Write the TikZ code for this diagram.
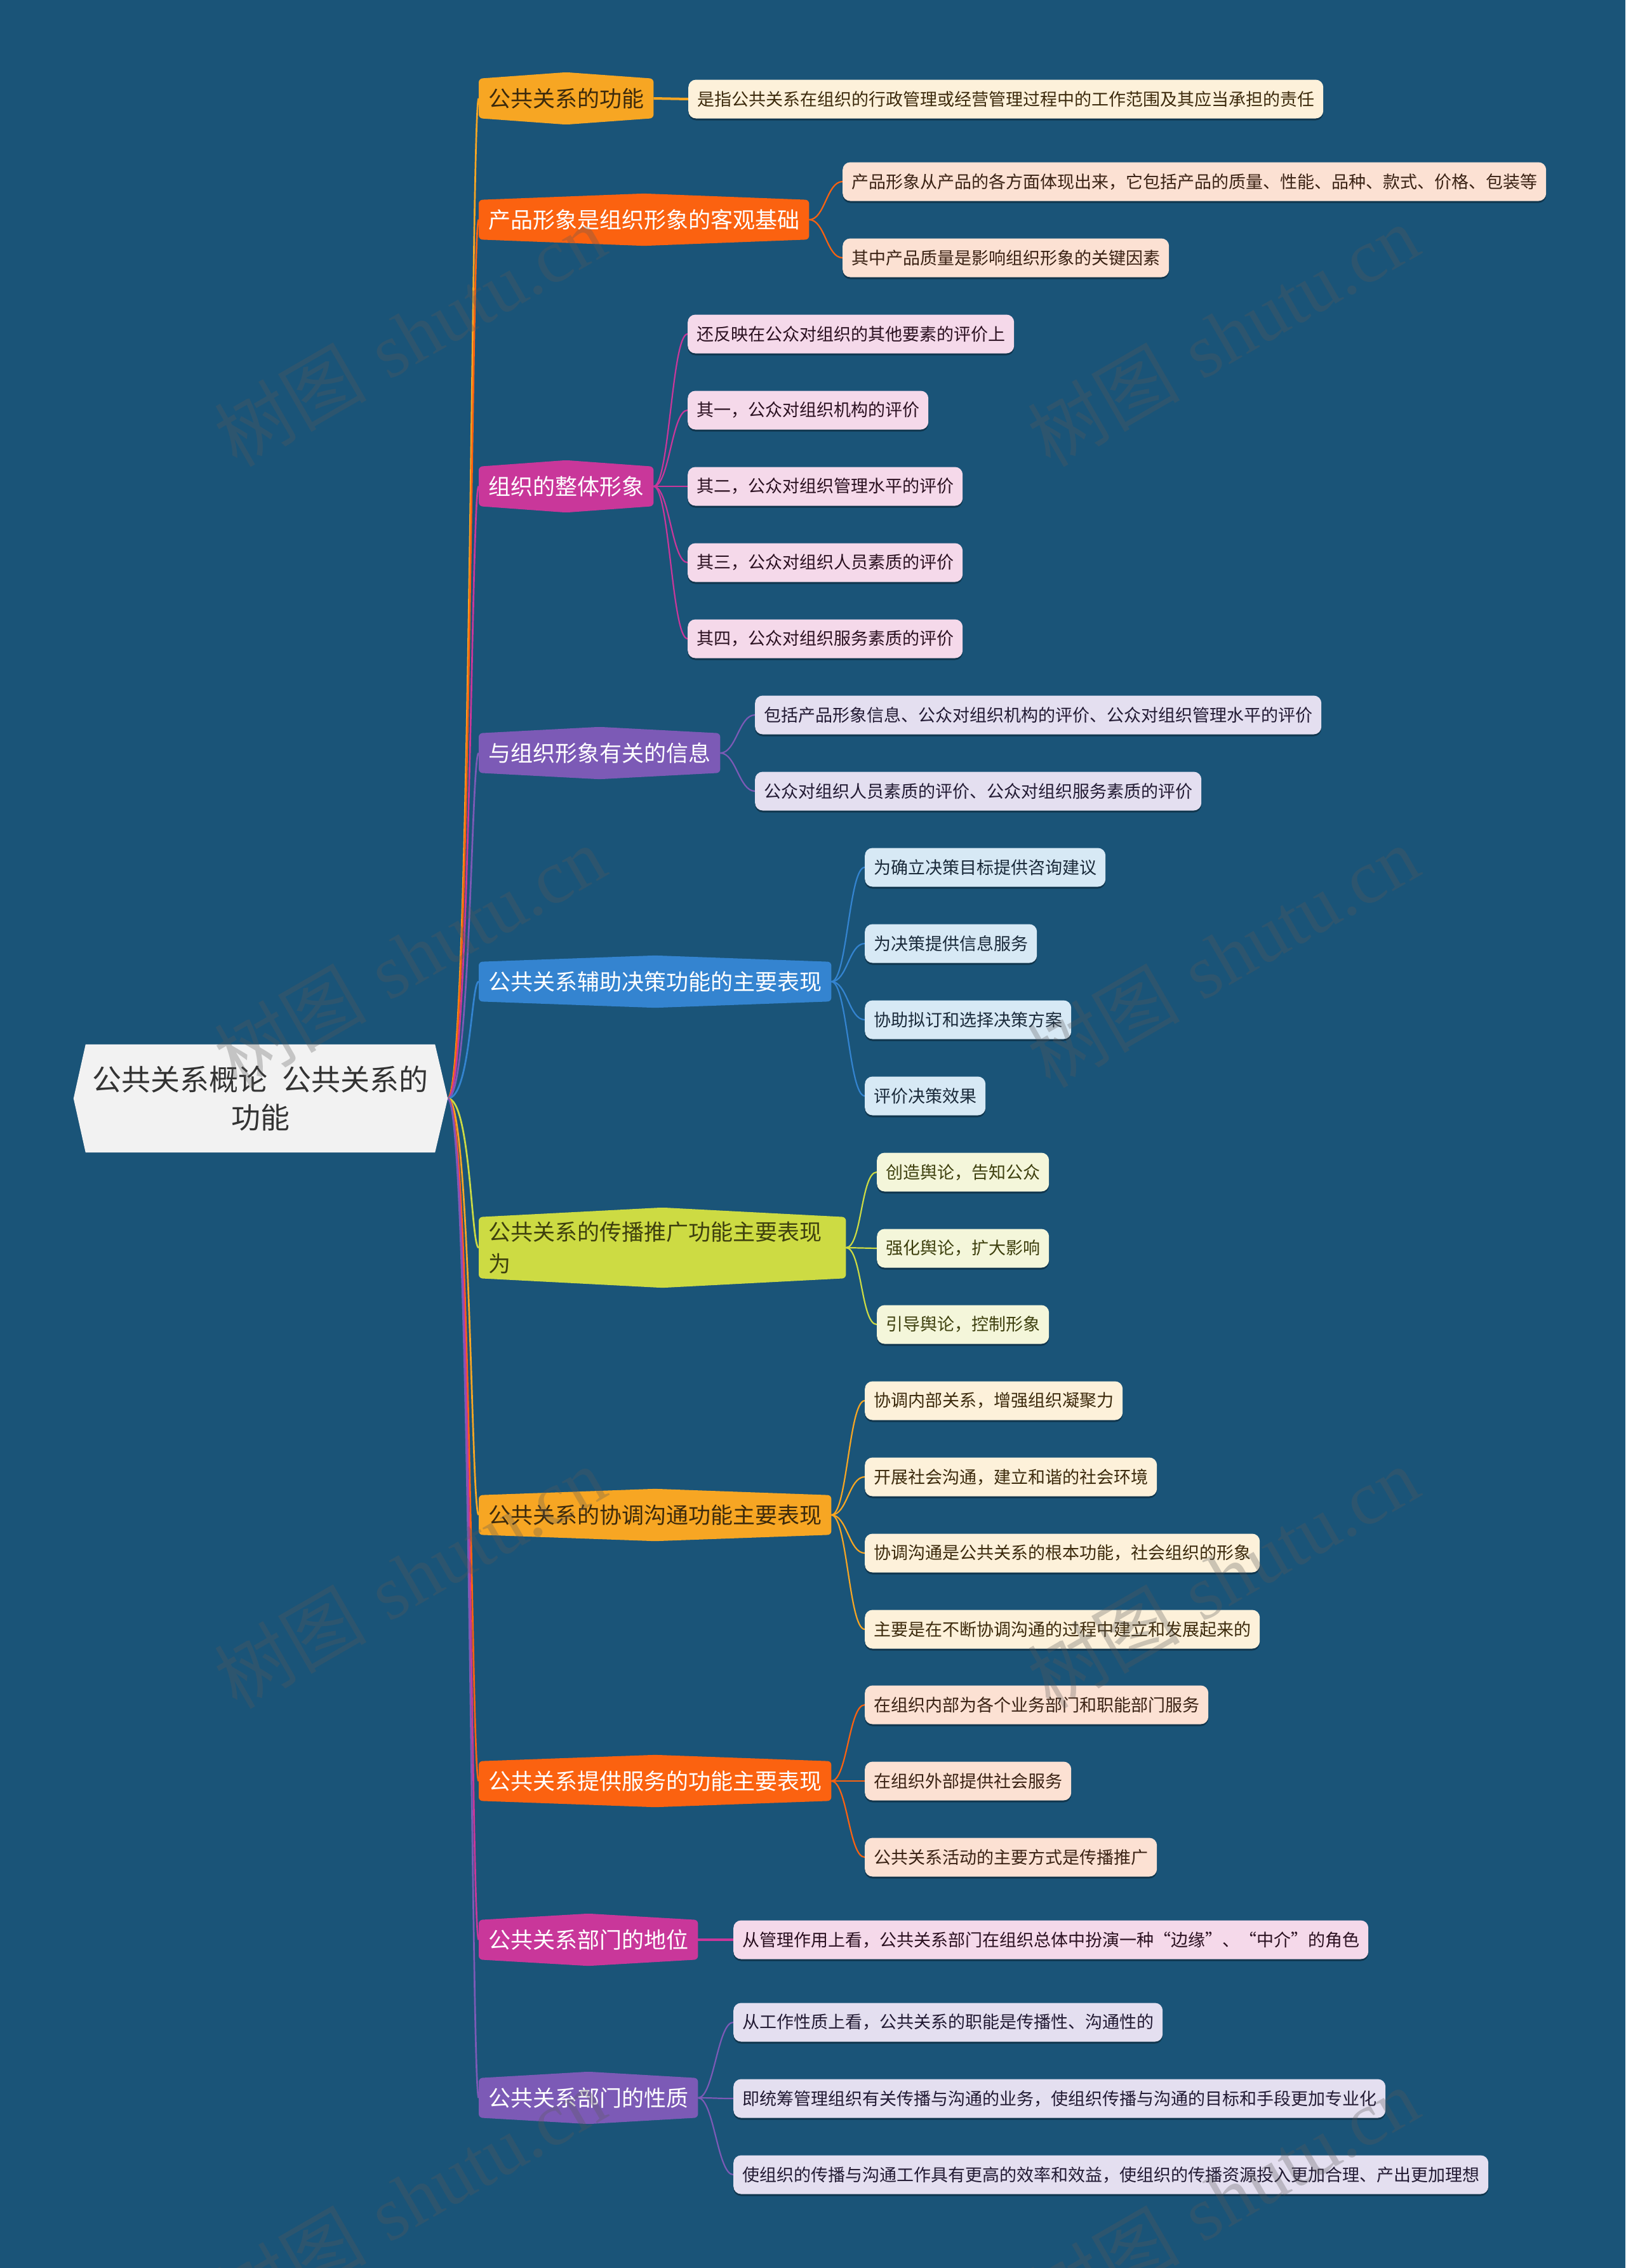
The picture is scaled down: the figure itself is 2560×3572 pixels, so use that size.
\documentclass[tikz,border=0pt]{standalone}
\usepackage{fontspec}
\newfontfamily\cjk{Noto Sans CJK SC}
\newfontfamily\wmserif{Liberation Serif}
\usetikzlibrary{calc,shadows}
\pgfdeclarelayer{bg}
\pgfdeclarelayer{mid}
\pgfdeclarelayer{top}
\pgfsetlayers{bg,mid,main,top}

\definecolor{bgc}{HTML}{1A5478}
\definecolor{rootc}{HTML}{F2F2F2}
\definecolor{roottxt}{HTML}{333333}
\definecolor{corange}{HTML}{F7A623}
\definecolor{cred}{HTML}{FB6210}
\definecolor{cmag}{HTML}{C9379A}
\definecolor{cpur}{HTML}{7C5AB6}
\definecolor{cblue}{HTML}{3484D0}
\definecolor{clime}{HTML}{CDDB43}
\definecolor{lcream}{HTML}{FDF1DA}
\definecolor{lpeach}{HTML}{FCE1D3}
\definecolor{lpink}{HTML}{F5D9EA}
\definecolor{llav}{HTML}{E4DFF0}
\definecolor{lblue}{HTML}{D7E9F5}
\definecolor{lyel}{HTML}{F4F6DA}
\definecolor{tbrown}{HTML}{3C2A0C}
\definecolor{tpeach}{HTML}{3A2214}
\definecolor{tpink}{HTML}{2A1020}
\definecolor{tlav}{HTML}{221A33}
\definecolor{tblue}{HTML}{1A2A3A}
\definecolor{tolive}{HTML}{3E400E}
\definecolor{wmc}{HTML}{5A5A5A}

\newcommand{\brshape}[3]{%
  \fill[#2, rounded corners=6pt] (#1.north west) -- ([yshift=#3]#1.north) -- (#1.north east)
    -- (#1.south east) -- ([yshift=-#3]#1.south) -- (#1.south west) -- cycle;}

\tikzset{
  rootbox/.style={rectangle, inner sep=0pt, minimum width=550pt, minimum height=170pt,
    align=center, text=roottxt, font=\cjk\fontsize{46}{60}\selectfont},
  brbox/.style={rectangle, anchor=west, inner xsep=15pt, inner ysep=0pt, minimum height=62pt,
    font=\cjk\fontsize{35}{50}\selectfont},
  leafbox/.style={rectangle, rounded corners=12pt, anchor=west, inner xsep=14pt, inner ysep=0pt,
    minimum height=61pt, font=\cjk\fontsize{27}{32}\selectfont,
    drop shadow={shadow xshift=0pt, shadow yshift=-3pt, opacity=0.35, fill=black}},
  rootconn/.style={line width=2.7pt},
  leafconn/.style={line width=2.2pt},
  oneconn/.style={line width=4pt},
  wm/.style={rotate=30, text=wmc, opacity=0.3, font=\fontsize{120}{130}\selectfont}
}

\begin{document}
\begin{tikzpicture}[x=1pt,y=-1pt]
\useasboundingbox (0,0) rectangle (2560,3572);

% root
\node[rootbox] (root) at (410,1730) {公共关系概论\hspace{0.5em}公共关系的\\功能};
\coordinate (rootR) at ([xshift=20pt]root.east);
\coordinate (rootL) at ([xshift=-19pt]root.west);

% branches
\node[brbox, text=tbrown] (b1) at (754,155) {公共关系的功能};
\node[brbox, text=white] (b2) at (754,346) {产品形象是组织形象的客观基础};
\node[brbox, text=white] (b3) at (754,766) {组织的整体形象};
\node[brbox, text=white] (b4) at (754,1186) {与组织形象有关的信息};
\node[brbox, text=white] (b5) at (754,1546) {公共关系辅助决策功能的主要表现};
\node[brbox, text=tolive, text width=548pt, align=left, minimum height=96pt] (b6) at (754,1965) {公共关系的传播推广功能主要表现\\为};
\node[brbox, text=tbrown] (b7) at (754,2386) {公共关系的协调沟通功能主要表现};
\node[brbox, text=white] (b8) at (754,2805) {公共关系提供服务的功能主要表现};
\node[brbox, text=white] (b9) at (754,3055) {公共关系部门的地位};
\node[brbox, text=white] (b10) at (754,3304) {公共关系部门的性质};

% leaves
\node[leafbox, fill=lcream, text=tbrown] (l11) at (1084,156) {是指公共关系在组织的行政管理或经营管理过程中的工作范围及其应当承担的责任};

\node[leafbox, fill=lpeach, text=tpeach] (l21) at (1327,286) {产品形象从产品的各方面体现出来，它包括产品的质量、性能、品种、款式、价格、包装等};
\node[leafbox, fill=lpeach, text=tpeach] (l22) at (1327,406) {其中产品质量是影响组织形象的关键因素};

\node[leafbox, fill=lpink, text=tpink] (l31) at (1083,526) {还反映在公众对组织的其他要素的评价上};
\node[leafbox, fill=lpink, text=tpink] (l32) at (1083,646) {其一，公众对组织机构的评价};
\node[leafbox, fill=lpink, text=tpink] (l33) at (1083,766) {其二，公众对组织管理水平的评价};
\node[leafbox, fill=lpink, text=tpink] (l34) at (1083,886) {其三，公众对组织人员素质的评价};
\node[leafbox, fill=lpink, text=tpink] (l35) at (1083,1006) {其四，公众对组织服务素质的评价};

\node[leafbox, fill=llav, text=tlav] (l41) at (1189,1126) {包括产品形象信息、公众对组织机构的评价、公众对组织管理水平的评价};
\node[leafbox, fill=llav, text=tlav] (l42) at (1189,1246) {公众对组织人员素质的评价、公众对组织服务素质的评价};

\node[leafbox, fill=lblue, text=tblue] (l51) at (1362,1366) {为确立决策目标提供咨询建议};
\node[leafbox, fill=lblue, text=tblue] (l52) at (1362,1486) {为决策提供信息服务};
\node[leafbox, fill=lblue, text=tblue] (l53) at (1362,1606) {协助拟订和选择决策方案};
\node[leafbox, fill=lblue, text=tblue] (l54) at (1362,1726) {评价决策效果};

\node[leafbox, fill=lyel, text=tolive] (l61) at (1381,1846) {创造舆论，告知公众};
\node[leafbox, fill=lyel, text=tolive] (l62) at (1381,1966) {强化舆论，扩大影响};
\node[leafbox, fill=lyel, text=tolive] (l63) at (1381,2086) {引导舆论，控制形象};

\node[leafbox, fill=lcream, text=tbrown] (l71) at (1362,2206) {协调内部关系，增强组织凝聚力};
\node[leafbox, fill=lcream, text=tbrown] (l72) at (1362,2326) {开展社会沟通，建立和谐的社会环境};
\node[leafbox, fill=lcream, text=tbrown] (l73) at (1362,2446) {协调沟通是公共关系的根本功能，社会组织的形象};
\node[leafbox, fill=lcream, text=tbrown] (l74) at (1362,2566) {主要是在不断协调沟通的过程中建立和发展起来的};

\node[leafbox, fill=lpeach, text=tpeach] (l81) at (1362,2685) {在组织内部为各个业务部门和职能部门服务};
\node[leafbox, fill=lpeach, text=tpeach] (l82) at (1362,2805) {在组织外部提供社会服务};
\node[leafbox, fill=lpeach, text=tpeach] (l83) at (1362,2925) {公共关系活动的主要方式是传播推广};

\node[leafbox, fill=lpink, text=tpink] (l91) at (1155,3055) {从管理作用上看，公共关系部门在组织总体中扮演一种“边缘”、“中介”的角色};

\node[leafbox, fill=llav, text=tlav] (l101) at (1155,3185) {从工作性质上看，公共关系的职能是传播性、沟通性的};
\node[leafbox, fill=llav, text=tlav] (l102) at (1155,3305) {即统筹管理组织有关传播与沟通的业务，使组织传播与沟通的目标和手段更加专业化};
\node[leafbox, fill=llav, text=tlav] (l103) at (1155,3425) {使组织的传播与沟通工作具有更高的效率和效益，使组织的传播资源投入更加合理、产出更加理想};

% shapes
\begin{pgfonlayer}{mid}
\fill[rootc] (root.north west) -- (root.north east) -- (rootR) -- (root.south east) -- (root.south west) -- (rootL) -- cycle;
\brshape{b1}{corange}{10pt}
\brshape{b2}{cred}{10pt}
\brshape{b3}{cmag}{10pt}
\brshape{b4}{cpur}{10pt}
\brshape{b5}{cblue}{10pt}
\brshape{b6}{clime}{15pt}
\brshape{b7}{corange}{10pt}
\brshape{b8}{cred}{10pt}
\brshape{b9}{cmag}{10pt}
\brshape{b10}{cpur}{10pt}
\end{pgfonlayer}

% background and connectors
\begin{pgfonlayer}{bg}
\fill[bgc] (0,0) rectangle (2560,3572);
\foreach \b/\c in {b1/corange, b2/cred, b3/cmag, b4/cpur, b5/cblue, b6/clime, b7/corange, b8/cred, b9/cmag, b10/cpur}
  \draw[rootconn, \c] (rootR) .. controls +(36pt,0pt) and +(-12pt,0pt) .. (\b.west);
\draw[oneconn, corange] (b1.east) -- (l11.west);
\draw[oneconn, cmag] (b9.east) -- (l91.west);
\foreach \l in {l21,l22}
  \draw[leafconn, cred] (b2.east) .. controls +(25pt,0pt) and +(-25pt,0pt) .. (\l.west);
\foreach \l in {l31,l32,l33,l34,l35}
  \draw[leafconn, cmag] (b3.east) .. controls +(25pt,0pt) and +(-25pt,0pt) .. (\l.west);
\foreach \l in {l41,l42}
  \draw[leafconn, cpur] (b4.east) .. controls +(25pt,0pt) and +(-25pt,0pt) .. (\l.west);
\foreach \l in {l51,l52,l53,l54}
  \draw[leafconn, cblue] (b5.east) .. controls +(25pt,0pt) and +(-25pt,0pt) .. (\l.west);
\foreach \l in {l61,l62,l63}
  \draw[leafconn, clime] (b6.east) .. controls +(25pt,0pt) and +(-25pt,0pt) .. (\l.west);
\foreach \l in {l71,l72,l73,l74}
  \draw[leafconn, corange] (b7.east) .. controls +(25pt,0pt) and +(-25pt,0pt) .. (\l.west);
\foreach \l in {l81,l82,l83}
  \draw[leafconn, cred] (b8.east) .. controls +(25pt,0pt) and +(-25pt,0pt) .. (\l.west);
\foreach \l in {l101,l102,l103}
  \draw[leafconn, cpur] (b10.east) .. controls +(25pt,0pt) and +(-25pt,0pt) .. (\l.west);
\end{pgfonlayer}

% watermarks
\begin{pgfonlayer}{top}
\foreach \x/\y [count=\i] in {645/528, 1926/528, 645/1506, 1926/1506, 645/2484, 1926/2484, 645/3462, 1926/3462}
  \node[wm] (wm\i) at (\x,\y) {{\cjk 树图} {\wmserif shutu.cn}};
\end{pgfonlayer}
\end{tikzpicture}
\end{document}
